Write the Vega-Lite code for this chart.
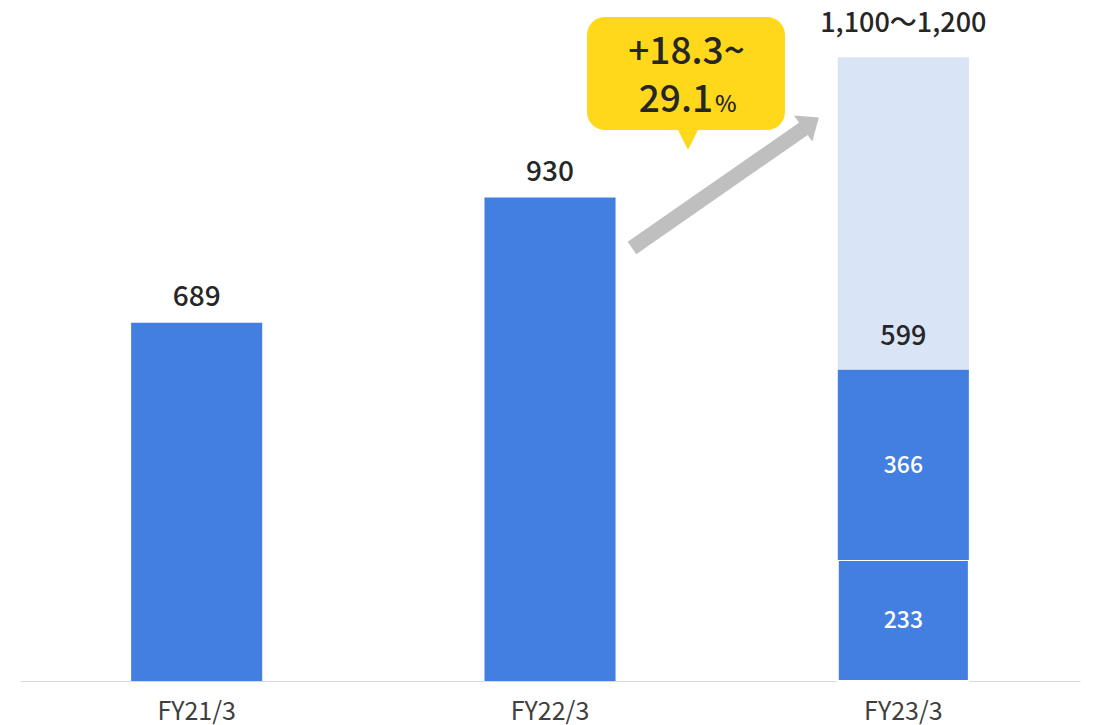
{
  "$schema": "https://vega.github.io/schema/vega-lite/v6.json",
  "width": 1060,
  "height": 681,
  "autosize": {"type": "none"},
  "padding": {"left": 20, "top": 0, "right": 14, "bottom": 44},
  "background": "white",
  "config": {"view": {"stroke": null}, "font": "Noto Sans CJK JP"},
  "datasets": {
    "bars": [
      {"cat": "FY21/3", "part": "full", "value": 689},
      {"cat": "FY22/3", "part": "full", "value": 930},
      {"cat": "FY23/3", "part": "1Q", "value": 233},
      {"cat": "FY23/3", "part": "2Q", "value": 366},
      {"cat": "FY23/3", "part": "forecast", "value": 601}
    ],
    "totals": [
      {"cat": "FY21/3", "total": 689, "text": "689"},
      {"cat": "FY22/3", "total": 930, "text": "930"},
      {"cat": "FY23/3", "total": 599, "text": "599"},
      {"cat": "FY23/3", "total": 1200, "text": "1,100～1,200"}
    ],
    "anno": [{"id": "callout"}]
  },
  "resolve": {"scale": {"x": "independent"}},
  "layer": [
    {
      "layer": [
        {
          "data": {"name": "bars"},
          "mark": {"type": "bar", "stroke": "white"},
          "encoding": {
            "x": {
              "field": "cat", "type": "nominal",
              "scale": {"paddingInner": 0.629, "paddingOuter": 0.3145},
              "axis": {"title": null, "labelAngle": 0, "labelFontSize": 25, "labelColor": "#404040", "labelPadding": 18, "ticks": false, "domainColor": "#D9D9D9", "domainWidth": 1, "labelFont": "Noto Sans CJK JP"}
            },
            "y": {"field": "value", "type": "quantitative", "stack": "zero", "scale": {"domain": [0, 1310], "nice": false}, "axis": null},
            "order": {"field": "part", "sort": "ascending"},
            "color": {
              "field": "part", "type": "nominal",
              "scale": {"domain": ["1Q", "2Q", "forecast", "full"], "range": ["#427FE0", "#427FE0", "#DAE4F7", "#427FE0"]},
              "legend": null
            },
            "strokeWidth": {"condition": {"test": "datum.part === '1Q'", "value": 2}, "value": 0}
          }
        },
        {
          "data": {"name": "totals"},
          "transform": [{"filter": "datum.cat !== 'FY23/3'"}],
          "mark": {"type": "text", "dy": -17, "baseline": "alphabetic", "fontSize": 28, "fontWeight": 500, "color": "#262626"},
          "encoding": {
            "x": {"field": "cat", "type": "nominal"},
            "y": {"field": "total", "type": "quantitative"},
            "text": {"field": "text"}
          }
        },
        {
          "data": {"name": "totals"},
          "transform": [{"filter": "datum.cat === 'FY23/3'"}],
          "mark": {"type": "text", "dy": -25, "baseline": "alphabetic", "fontSize": 27, "fontWeight": 500, "color": "#262626"},
          "encoding": {
            "x": {"field": "cat", "type": "nominal"},
            "y": {"field": "total", "type": "quantitative"},
            "text": {"field": "text"}
          }
        },
        {
          "data": {"name": "bars"},
          "transform": [
            {"filter": "datum.part === '1Q' || datum.part === '2Q'"},
            {"stack": "value", "groupby": ["cat"], "sort": [{"field": "part", "order": "ascending"}], "as": ["lo", "hi"]},
            {"calculate": "(datum.lo + datum.hi) / 2", "as": "mid"}
          ],
          "mark": {"type": "text", "baseline": "middle", "dy": 1, "fontSize": 23, "fontWeight": 500, "color": "white"},
          "encoding": {
            "x": {"field": "cat", "type": "nominal"},
            "y": {"field": "mid", "type": "quantitative"},
            "text": {"field": "value"}
          }
        }
      ]
    },
    {
      "data": {"name": "anno"},
      "layer": [
        {
          "mark": {"type": "rule", "strokeWidth": 15, "color": "#BFBFBF", "strokeCap": "butt"},
          "encoding": {
            "x": {"datum": 1.732, "type": "quantitative", "scale": {"domain": [0, 3], "nice": false, "zero": false}, "axis": null},
            "y": {"datum": 833, "type": "quantitative"},
            "x2": {"datum": 2.2246},
            "y2": {"datum": 1065.7}
          }
        },
        {
          "mark": {"type": "point", "shape": "M0,-0.6L1,0.6L-1,0.6Z", "size": 1024, "angle": 55, "filled": true, "color": "#BFBFBF", "opacity": 1, "strokeWidth": 0},
          "encoding": {
            "x": {"datum": 2.2387, "type": "quantitative", "scale": {"domain": [0, 3], "nice": false, "zero": false}, "axis": null},
            "y": {"datum": 1073.4, "type": "quantitative"}
          }
        },
        {
          "mark": {"type": "rect", "color": "#FFD81B", "cornerRadius": 18},
          "encoding": {
            "x": {"datum": 1.6047, "type": "quantitative", "scale": {"domain": [0, 3], "nice": false, "zero": false}, "axis": null},
            "x2": {"datum": 2.1651},
            "y": {"datum": 1277.3, "type": "quantitative"},
            "y2": {"datum": 1059.9}
          }
        },
        {
          "mark": {"type": "point", "shape": "M-1,-1L1,-1L0,1Z", "size": 441, "filled": true, "color": "#FFD81B", "opacity": 1, "strokeWidth": 0},
          "encoding": {
            "x": {"datum": 1.8906, "type": "quantitative", "scale": {"domain": [0, 3], "nice": false, "zero": false}, "axis": null},
            "y": {"datum": 1041.6, "type": "quantitative"}
          }
        },
        {
          "mark": {"type": "text", "text": "+18.3~", "align": "center", "baseline": "alphabetic", "fontSize": 37, "fontWeight": 500, "color": "#262626"},
          "encoding": {
            "x": {"datum": 1.8863, "type": "quantitative", "scale": {"domain": [0, 3], "nice": false, "zero": false}, "axis": null},
            "y": {"datum": 1186.9, "type": "quantitative"}
          }
        },
        {
          "mark": {"type": "text", "text": "29.1", "align": "right", "baseline": "alphabetic", "fontSize": 37, "fontWeight": 500, "color": "#262626"},
          "encoding": {
            "x": {"datum": 1.9613, "type": "quantitative", "scale": {"domain": [0, 3], "nice": false, "zero": false}, "axis": null},
            "y": {"datum": 1095.1, "type": "quantitative"}
          }
        },
        {
          "mark": {"type": "text", "text": "%", "align": "left", "baseline": "alphabetic", "fontSize": 23, "fontWeight": 500, "color": "#262626"},
          "encoding": {
            "x": {"datum": 1.967, "type": "quantitative", "scale": {"domain": [0, 3], "nice": false, "zero": false}, "axis": null},
            "y": {"datum": 1095.1, "type": "quantitative"}
          }
        }
      ]
    }
  ]
}
